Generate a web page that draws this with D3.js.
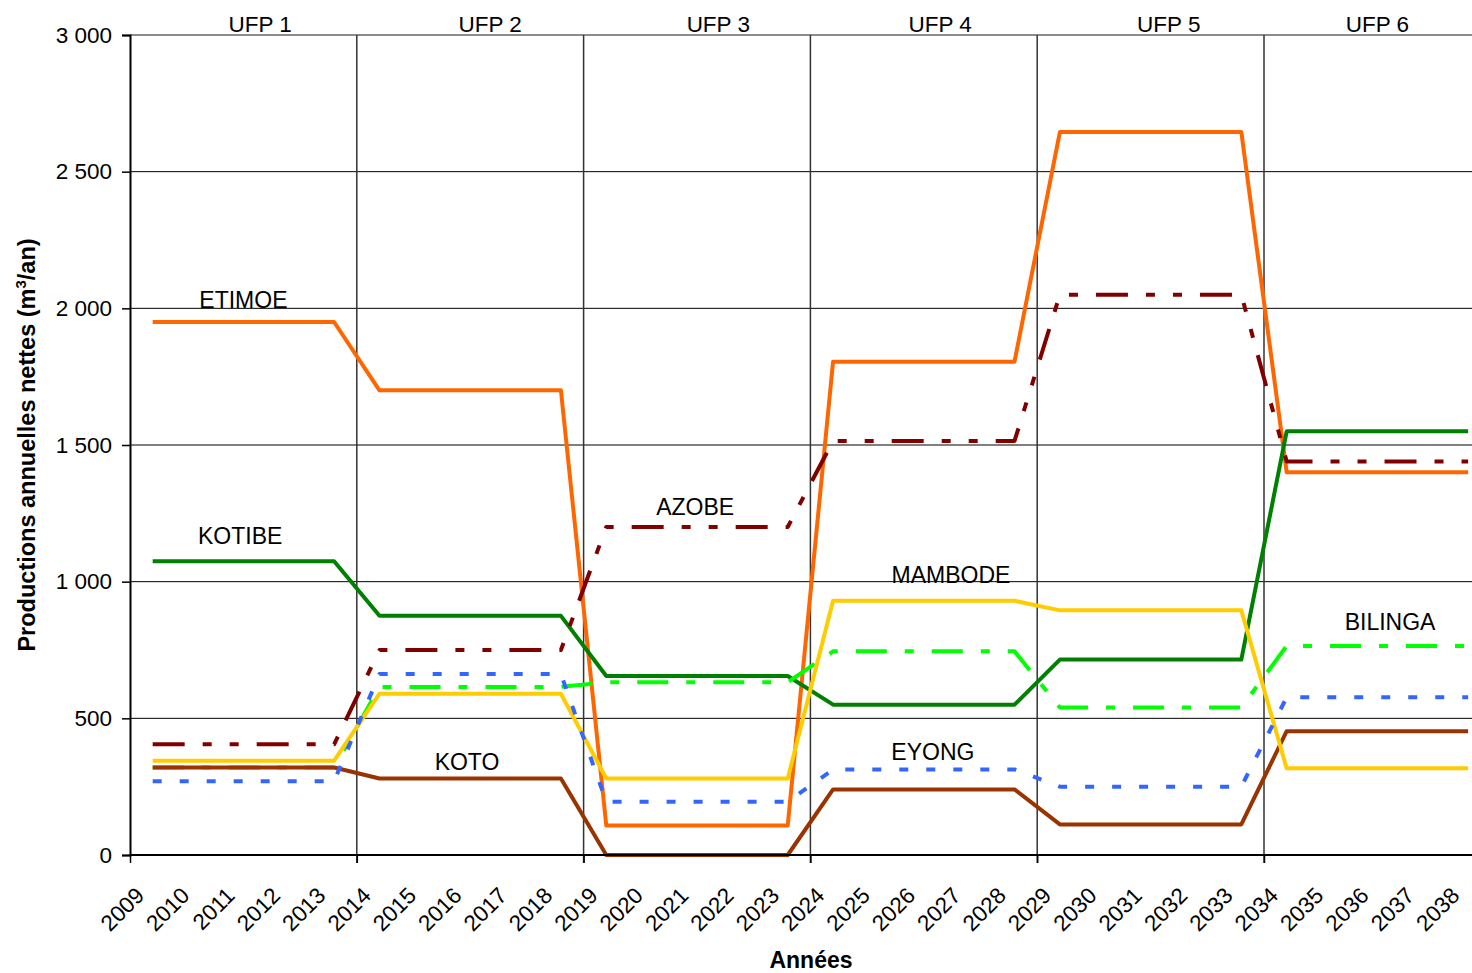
<!DOCTYPE html>
<html>
<head>
<meta charset="utf-8">
<script src="https://cdn.jsdelivr.net/npm/d3@7"></script>
<style>
  html, body { margin: 0; padding: 0; background: #fff; overflow: hidden; }
  svg { display: block; font-family: "Liberation Sans", Arial, sans-serif; }
</style>
</head>
<body>
<svg id="chart" width="1472" height="973"></svg>
<script>
// Year positions of the series points (middle of each year, one pair per UFP)
const pointYears = [2009.5, 2013.5, 2014.5, 2018.5, 2019.5, 2023.5, 2024.5, 2028.5, 2029.5, 2033.5, 2034.5, 2038.5];

// Net annual production per species (m3/an)
const etimoe  = [1950, 1950, 1700, 1700, 108, 108, 1805, 1805, 2645, 2645, 1400, 1400];
const kotibe  = [1075, 1075, 875, 875, 655, 655, 550, 550, 715, 715, 1550, 1550];
const azobe   = [405, 405, 750, 750, 1200, 1200, 1515, 1515, 2050, 2050, 1440, 1440];
const bilinga = [320, 320, 615, 615, 632, 632, 745, 745, 540, 540, 765, 765];
const koto    = [320, 320, 280, 280, 0, 0, 240, 240, 112, 112, 453, 453];
const mambode = [345, 345, 590, 590, 280, 280, 930, 930, 895, 895, 317, 317];
const eyong   = [270, 270, 662, 662, 195, 195, 313, 313, 250, 250, 577, 577];

// Axis ticks
const yearTicks = d3.range(2009, 2039);
const majorYears = [2009, 2014, 2019, 2024, 2029, 2034];
const valueTicks = [0, 500, 1000, 1500, 2000, 2500, 3000];

// UFP block labels
const ufpNames = ["UFP 1", "UFP 2", "UFP 3", "UFP 4", "UFP 5", "UFP 6"];
const ufpYears = [2011.87, 2016.94, 2021.97, 2026.86, 2031.9, 2036.5];

// Series, in drawing order
const series = [
  { name: "ETIMOE",  values: etimoe,  color: "#FF6600", dash: null,              label: [2011.5, 2000] },
  { name: "KOTIBE",  values: kotibe,  color: "#008000", dash: null,              label: [2011.43, 1138] },
  { name: "BILINGA", values: bilinga, color: "#00FF00", dash: "31,18,9,18",      label: [2036.78, 823] },
  { name: "KOTO",    values: koto,    color: "#993300", dash: null,              label: [2016.43, 311] },
  { name: "MAMBODE", values: mambode, color: "#FFCC00", dash: null,              label: [2027.1, 995] },
  { name: "EYONG",   values: eyong,   color: "#3366FF", dash: "9,18",            label: [2026.7, 348] },
  { name: "AZOBE",   values: azobe,   color: "#800000", dash: "32,18,9,18,9,18", label: [2021.46, 1244] }
];

const svg = d3.select("#chart");
const plotLeft = 130, plotTop = 35, plotBottom = 855, plotRight = 1472;

const x = d3.scaleLinear().domain([2009, 2039]).range([plotLeft, plotLeft + 30 * 45.36]);
const y = d3.scaleLinear().domain([0, 3000]).range([plotBottom, plotTop]);

const fmt = d3.formatLocale({ thousands: " ", grouping: [3], decimal: ",", currency: ["", ""] }).format(",d");

// Horizontal gridlines
svg.append("g").selectAll("line")
  .data(valueTicks.filter(v => v > 0 && v < 3000))
  .join("line")
  .attr("x1", plotLeft).attr("x2", plotRight)
  .attr("y1", d => y(d)).attr("y2", d => y(d))
  .attr("stroke", "#000").attr("stroke-width", 1);

// Top border of the plot area
svg.append("line")
  .attr("x1", plotLeft).attr("x2", plotRight)
  .attr("y1", y(3000)).attr("y2", y(3000))
  .attr("stroke", "#8c8c8c").attr("stroke-width", 2);

// Vertical separators between UFPs (extend below the axis as ticks)
svg.append("g").selectAll("line")
  .data(majorYears.slice(1))
  .join("line")
  .attr("x1", d => x(d)).attr("x2", d => x(d))
  .attr("y1", y(3000)).attr("y2", plotBottom + 8)
  .attr("stroke", "#333").attr("stroke-width", 1.5);

// Series lines
const line = d3.line().x((d, i) => x(pointYears[i])).y(d => y(d));
svg.append("g").selectAll("path")
  .data(series)
  .join("path")
  .attr("d", d => line(d.values))
  .attr("fill", "none")
  .attr("stroke", d => d.color)
  .attr("stroke-width", 4)
  .attr("stroke-linejoin", "round")
  .attr("stroke-dasharray", d => d.dash);

// Y axis
const yAxis = svg.append("g")
  .attr("transform", `translate(${plotLeft},0)`)
  .call(d3.axisLeft(y).tickValues(valueTicks).tickSize(8).tickPadding(10).tickFormat(fmt));
yAxis.select(".domain").attr("stroke", "#000").attr("stroke-width", 2);
yAxis.selectAll(".tick line").attr("stroke", "#000").attr("stroke-width", 1.5);
yAxis.selectAll(".tick text")
  .attr("font-size", 22.5).attr("fill", "#000")
  .attr("font-family", "Liberation Sans, Arial, sans-serif");

// X axis: baseline and major ticks
const xAxis = svg.append("g")
  .attr("transform", `translate(0,${plotBottom})`)
  .call(d3.axisBottom(x).tickValues(majorYears).tickSize(8).tickFormat("").tickSizeOuter(0));
xAxis.select(".domain").attr("stroke", "#000").attr("stroke-width", 2).attr("d", `M${plotLeft},0H${plotRight}`);
xAxis.selectAll(".tick line").attr("stroke", "#000").attr("stroke-width", 1.5);

// X axis: rotated year labels
const xLabels = svg.append("g")
  .attr("transform", `translate(0,${plotBottom})`)
  .call(d3.axisBottom(x).tickValues(yearTicks).tickSize(0).tickFormat(d3.format("d")));
xLabels.select(".domain").remove();
xLabels.selectAll(".tick text")
  .attr("font-size", 22.5).attr("fill", "#000")
  .attr("font-family", "Liberation Sans, Arial, sans-serif")
  .attr("text-anchor", "end")
  .attr("x", 0).attr("y", 0).attr("dy", 0)
  .attr("transform", "translate(15,42) rotate(-45)");

// UFP labels along the top
svg.append("g").selectAll("text")
  .data(ufpNames)
  .join("text")
  .attr("x", (d, i) => x(ufpYears[i]))
  .attr("y", 32)
  .attr("text-anchor", "middle")
  .attr("font-size", 22.5)
  .text(d => d);

// Species labels
svg.append("g").selectAll("text")
  .data(series)
  .join("text")
  .attr("x", d => x(d.label[0]))
  .attr("y", d => y(d.label[1]))
  .attr("text-anchor", "middle")
  .attr("font-size", 23)
  .text(d => d.name);

// Axis titles
const yTitle = svg.append("text")
  .attr("transform", `translate(35,445) rotate(-90)`)
  .attr("text-anchor", "middle")
  .attr("font-size", 23.5)
  .attr("font-weight", "bold");
yTitle.append("tspan").text("Productions annuelles nettes (m");
yTitle.append("tspan").attr("font-size", 15).attr("dy", -9).text("3");
yTitle.append("tspan").attr("dy", 9).text("/an)");

svg.append("text")
  .attr("x", 811).attr("y", 968)
  .attr("text-anchor", "middle")
  .attr("font-size", 23)
  .attr("font-weight", "bold")
  .text("Années");
</script>
</body>
</html>
